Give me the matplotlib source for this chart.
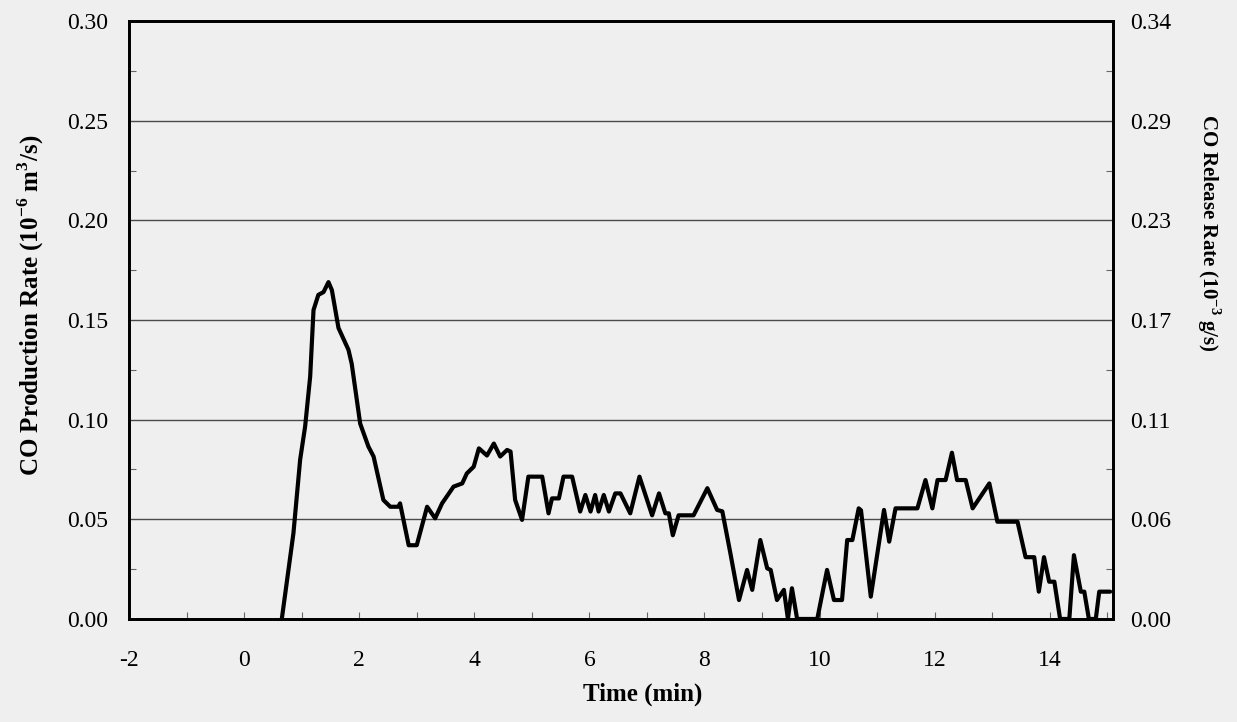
import numpy as np
import matplotlib.pyplot as plt
from matplotlib.ticker import MultipleLocator

plt.rcParams['font.family'] = ['Liberation Serif', 'DejaVu Serif']
plt.rcParams['mathtext.fontset'] = 'custom'
plt.rcParams['mathtext.rm'] = 'Liberation Serif:bold'
plt.rcParams['mathtext.bf'] = 'Liberation Serif:bold'

# Dữ liệu
time_min = [0.655, 0.857, 0.974, 1.06, 1.148, 1.206, 1.29, 1.38, 1.466, 1.525,
            1.64, 1.814, 1.87, 2.017, 2.16, 2.25, 2.42, 2.54, 2.68, 2.71,
            2.86, 3.0, 3.18, 3.32, 3.44, 3.64, 3.79, 3.87, 3.99, 4.08,
            4.22, 4.34, 4.45, 4.57, 4.63, 4.71, 4.83, 4.94, 5.18, 5.29,
            5.35, 5.47, 5.55, 5.70, 5.84, 5.93, 6.02, 6.10, 6.16, 6.25,
            6.34, 6.45, 6.54, 6.71, 6.87, 7.09, 7.21, 7.32, 7.38, 7.45,
            7.55, 7.81, 8.05, 8.22, 8.31, 8.45, 8.60, 8.74, 8.83, 8.97,
            9.09, 9.15, 9.26, 9.38, 9.45, 9.52, 9.61, 9.96, 10.13, 10.25,
            10.39, 10.48, 10.57, 10.68, 10.72, 10.89, 11.12, 11.21, 11.32, 11.70,
            11.84, 11.96, 12.05, 12.19, 12.30, 12.39, 12.54, 12.66, 12.95, 13.09,
            13.44, 13.58, 13.73, 13.81, 13.90, 13.99, 14.08, 14.18, 14.34, 14.42,
            14.54, 14.60, 14.68, 14.80, 14.86, 15.05]
co_rate = [0.0, 0.043, 0.080, 0.0965, 0.1216, 0.155, 0.1626, 0.164, 0.169, 0.165,
           0.146, 0.135, 0.128, 0.098, 0.0865, 0.0815, 0.0597, 0.0563, 0.0563, 0.058,
           0.037, 0.037, 0.0563, 0.0505, 0.058, 0.0664, 0.068, 0.073, 0.0764, 0.0856,
           0.082, 0.088, 0.0815, 0.0848, 0.084, 0.0597, 0.0497, 0.0714, 0.0714, 0.053,
           0.0605, 0.0605, 0.0714, 0.0714, 0.0539, 0.0622, 0.0539, 0.0622, 0.0539, 0.0622,
           0.0539, 0.063, 0.063, 0.053, 0.0714, 0.052, 0.063, 0.053, 0.053, 0.042,
           0.052, 0.052, 0.0656, 0.0547, 0.054, 0.033, 0.0095, 0.0246, 0.0146, 0.0396,
           0.0254, 0.0246, 0.0095, 0.0146, 0.0, 0.0154, 0.0, 0.0, 0.0246, 0.0095,
           0.0095, 0.0396, 0.0396, 0.0555, 0.0545, 0.0112, 0.0547, 0.0388, 0.0555, 0.0555,
           0.0697, 0.0555, 0.0697, 0.0697, 0.0834, 0.0697, 0.0697, 0.0555, 0.068, 0.0488,
           0.0488, 0.031, 0.031, 0.0137, 0.031, 0.0187, 0.0187, 0.0, 0.0, 0.032,
           0.0137, 0.0137, 0.0, 0.0, 0.0137, 0.0137]

left_ticks = [0.00, 0.05, 0.10, 0.15, 0.20, 0.25, 0.30]
x_ticks = [-2, 0, 2, 4, 6, 8, 10, 12, 14]
factor = 1.145  # m3 -> g

bg = '#efefef'
fig = plt.figure(figsize=(12.37, 7.22), dpi=100, facecolor=bg)
ax = fig.add_axes([0.1043, 0.1427, 0.7955, 0.8282], facecolor=bg)

for v in left_ticks[1:-1]:
    ax.axhline(v, color='#4a4a4a', lw=1.0, zorder=1)

ax.plot(time_min, co_rate, color='black', lw=3.0, zorder=3,
        solid_joinstyle='round', solid_capstyle='round')

ax.set_xlim(-2, 15.1)
ax.set_ylim(0, 0.30)
ax.set_xticks(x_ticks)
ax.set_xticklabels([str(t) for t in x_ticks])
ax.xaxis.set_minor_locator(MultipleLocator(1))
ax.set_yticks(left_ticks)
ax.set_yticklabels(['%.2f' % v for v in left_ticks])
ax.yaxis.set_minor_locator(MultipleLocator(0.025))
ax.tick_params(axis='both', which='both', direction='in', labelsize=17)
ax.tick_params(axis='x', which='both', length=5, width=0.8, color='#666666', pad=22)
ax.tick_params(axis='y', which='major', length=0, pad=15)
ax.tick_params(axis='y', which='minor', length=5, width=0.8, color='#666666')
for s in ax.spines.values():
    s.set_linewidth(2.0)

ax2 = ax.twinx()
ax2.set_ylim(0, 0.30 * factor)
right_ticks = [v * factor for v in left_ticks]
ax2.set_yticks(right_ticks)
ax2.set_yticklabels(['%.2f' % v for v in right_ticks])
ax2.yaxis.set_minor_locator(MultipleLocator(0.025 * factor))
ax2.tick_params(axis='y', which='both', direction='in', labelsize=17)
ax2.tick_params(axis='y', which='major', length=0, pad=12)
ax2.tick_params(axis='y', which='minor', length=5, width=0.8, color='#666666')
for s in ax2.spines.values():
    s.set_linewidth(2.0)

ax.set_xlabel('Time (min)', fontsize=18, fontweight='bold')
ax.xaxis.set_label_coords(0.522, -0.107)
ax.set_ylabel(r'CO Production Rate (10$^{-6}$ m$^{3}$/s)', fontsize=18,
              fontweight='bold', va='center')
ax.yaxis.set_label_coords(-0.0996, 0.525)
ax2.set_ylabel(r'CO Release Rate (10$^{-3}$ g/s)', fontsize=15,
               fontweight='bold', rotation=-90, va='center')
ax2.yaxis.set_label_coords(1.0976, 0.645)

fig.savefig('out.png', dpi=100, facecolor=bg)
